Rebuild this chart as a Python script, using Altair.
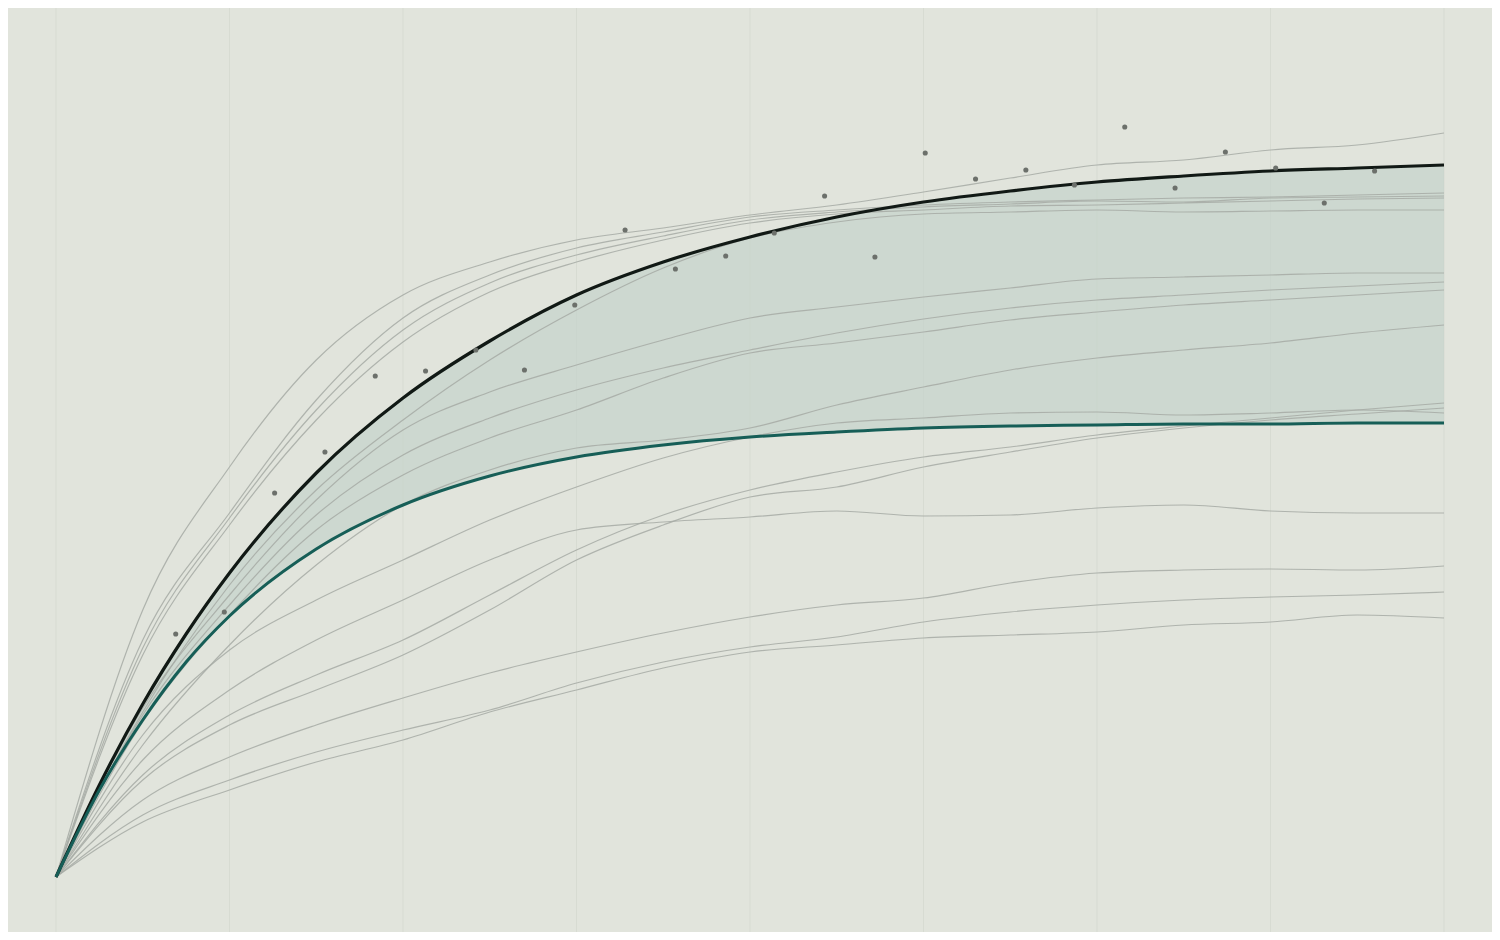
import altair as alt
import pandas as pd

# ---- fitted envelope (upper = dark curve, lower = teal curve) ----
x_fit = [0, 0.25, 0.5, 0.75, 1, 1.5, 2, 2.5, 3, 3.5, 4, 4.5, 5, 5.5, 6, 6.5, 7, 7.5, 8]
upper_fit = [0, 9.2, 17.3, 24.3, 30.4, 40.4, 47.9, 53.6, 58.2, 61.5, 64.0, 66.0, 67.5, 68.6, 69.5, 70.1, 70.6, 70.9, 71.2]
lower_fit = [0, 8.7, 15.7, 21.5, 26.1, 32.8, 37.2, 40.1, 42.0, 43.2, 44.0, 44.5, 44.9, 45.1, 45.2, 45.3, 45.3, 45.4, 45.4]

# ---- individual runs (thin grey lines) ----
x_run = [0, 0.5, 1, 1.5, 2, 2.5, 3, 3.5, 4, 4.5, 5, 5.5, 6, 6.5, 7, 7.5, 8]
run_a1 = [0, 26.7, 41.0, 51.7, 58.2, 61.5, 63.7, 64.9, 66.2, 67.2, 68.5, 69.9, 71.2, 71.7, 72.7, 73.2, 74.4]
run_a2 = [0, 23.7, 36.4, 47.7, 55.9, 60.2, 62.9, 64.5, 66.0, 66.7, 67.2, 67.5, 67.7, 67.9, 68.0, 68.2, 68.4]
run_a3 = [0, 22.9, 35.9, 46.7, 54.7, 59.4, 62.2, 64.1, 65.7, 66.5, 67.0, 67.3, 67.6, 67.5, 67.9, 68.0, 68.1]
run_a4 = [0, 22.2, 35.2, 45.7, 53.5, 58.5, 61.5, 63.7, 65.4, 66.3, 66.7, 67.1, 67.2, 67.4, 67.6, 67.8, 67.9]
run_b1 = [0, 16.5, 29.2, 38.7, 45.7, 51.7, 56.7, 60.9, 63.9, 65.5, 66.3, 66.5, 66.7, 66.5, 66.6, 66.7, 66.7]
run_c1 = [0, 16.9, 28.2, 37.7, 44.7, 48.5, 51.2, 53.7, 55.9, 57.0, 58.0, 58.9, 59.8, 60.0, 60.2, 60.4, 60.4]
run_c2 = [0, 16.2, 27.2, 36.2, 42.2, 45.9, 48.7, 50.9, 52.7, 54.4, 55.8, 56.9, 57.7, 58.2, 58.7, 59.1, 59.5]
run_c3 = [0, 15.5, 26.2, 34.7, 40.2, 43.9, 46.7, 49.9, 52.4, 53.4, 54.5, 55.7, 56.5, 57.2, 57.7, 58.2, 58.7]
run_d = [0, 13.2, 23.2, 31.2, 37.2, 40.7, 42.9, 43.7, 44.9, 47.2, 49.0, 50.7, 51.9, 52.7, 53.4, 54.4, 55.2]
run_e1 = [0, 14.2, 22.7, 27.7, 31.7, 35.7, 39.0, 41.9, 44.0, 45.4, 45.9, 46.4, 46.5, 46.2, 46.4, 46.7, 46.4]
run_e2 = [0, 10.2, 16.2, 20.2, 23.7, 28.2, 32.7, 36.2, 38.7, 40.5, 42.0, 43.0, 44.2, 45.1, 45.9, 46.7, 47.4]
run_e3 = [0, 9.7, 15.2, 18.7, 22.2, 26.7, 31.7, 35.2, 38.0, 39.0, 41.0, 42.5, 43.9, 44.9, 45.7, 46.3, 46.9]
run_f = [0, 11.7, 18.7, 23.7, 27.7, 31.7, 34.7, 35.5, 36.0, 36.6, 36.1, 36.2, 36.9, 37.2, 36.6, 36.4, 36.4]
run_g = [0, 7.7, 12.0, 15.2, 17.9, 20.4, 22.5, 24.4, 26.0, 27.2, 27.9, 29.4, 30.4, 30.7, 30.8, 30.7, 31.1]
run_h1 = [0, 6.2, 9.7, 12.5, 14.7, 16.7, 19.4, 21.5, 23.0, 24.0, 25.5, 26.5, 27.2, 27.7, 28.0, 28.2, 28.5]
run_h2 = [0, 5.5, 8.7, 11.5, 13.7, 16.5, 18.7, 20.9, 22.5, 23.2, 23.9, 24.2, 24.5, 25.2, 25.5, 26.2, 25.9]

runs = {
    "a1": run_a1, "a2": run_a2, "a3": run_a3, "a4": run_a4, "b1": run_b1,
    "c1": run_c1, "c2": run_c2, "c3": run_c3, "d": run_d,
    "e1": run_e1, "e2": run_e2, "e3": run_e3, "f": run_f,
    "g": run_g, "h1": run_h1, "h2": run_h2,
}

# ---- observations (dots) ----
obs_x = [0.69, 0.97, 1.26, 1.55, 1.84, 2.13, 2.42, 2.70, 2.99, 3.28, 3.57, 3.86, 4.14,
         4.43, 4.72, 5.01, 5.30, 5.59, 5.87, 6.16, 6.45, 6.74, 7.03, 7.31, 7.60]
obs_y = [24.3, 26.5, 38.4, 42.5, 50.1, 50.6, 52.7, 50.7, 57.2, 64.7, 60.8, 62.1, 64.4,
         68.1, 62.0, 72.4, 69.8, 70.7, 69.2, 75.0, 68.9, 72.5, 70.9, 67.4, 70.6]

grid_x = [0, 1, 2, 3, 4, 5, 6, 7, 8]

# ---- tables ----
fit_df = pd.DataFrame({"x": x_fit, "upper": upper_fit, "lower": lower_fit})
run_rows = []
for name, vals in runs.items():
    for xv, yv in zip(x_run, vals):
        run_rows.append({"run": name, "x": xv, "y": yv})
run_df = pd.DataFrame(run_rows)
obs_df = pd.DataFrame({"x": obs_x, "y": obs_y})
grid_df = pd.DataFrame({"x": grid_x})

BG = "#e1e4dc"
xs = alt.Scale(domain=[-0.2767, 8.2767], nice=False, zero=False)
ys = alt.Scale(domain=[-5.5, 86.9], nice=False, zero=False)

grid = alt.Chart(grid_df).mark_rule(color="#d7dbd2", strokeWidth=1).encode(
    x=alt.X("x:Q", scale=xs, axis=None),
    y=alt.value(0),
    y2=alt.value(924),
)

band = alt.Chart(fit_df).mark_area(
    color="#c4d3ca", opacity=0.7, interpolate="monotone"
).encode(
    x=alt.X("x:Q", scale=xs, axis=None),
    y=alt.Y("lower:Q", scale=ys, axis=None),
    y2="upper:Q",
)

lines = alt.Chart(run_df).mark_line(
    color="#a6aaa4", strokeWidth=1.2, opacity=0.85, interpolate="monotone"
).encode(
    x=alt.X("x:Q", scale=xs, axis=None),
    y=alt.Y("y:Q", scale=ys, axis=None),
    detail="run:N",
)

upper_line = alt.Chart(fit_df).mark_line(
    color="#111915", strokeWidth=3.2, interpolate="monotone"
).encode(
    x=alt.X("x:Q", scale=xs, axis=None),
    y=alt.Y("upper:Q", scale=ys, axis=None),
)

lower_line = alt.Chart(fit_df).mark_line(
    color="#165e57", strokeWidth=3, interpolate="monotone"
).encode(
    x=alt.X("x:Q", scale=xs, axis=None),
    y=alt.Y("lower:Q", scale=ys, axis=None),
)

dots = alt.Chart(obs_df).mark_circle(color="#6c706b", opacity=1, size=26).encode(
    x=alt.X("x:Q", scale=xs, axis=None),
    y=alt.Y("y:Q", scale=ys, axis=None),
)

chart = alt.layer(grid, band, lines, upper_line, lower_line, dots).properties(
    width=1484,
    height=924,
    padding=0,
    background=BG,
    autosize=alt.AutoSizeParams(type="none"),
    usermeta={"embedOptions": {"defaultStyle": "body{background:#e1e4dc;}"}},
).configure_view(strokeWidth=0)

chart.save("out.html", embed_options={"renderer": "svg", "actions": False})
